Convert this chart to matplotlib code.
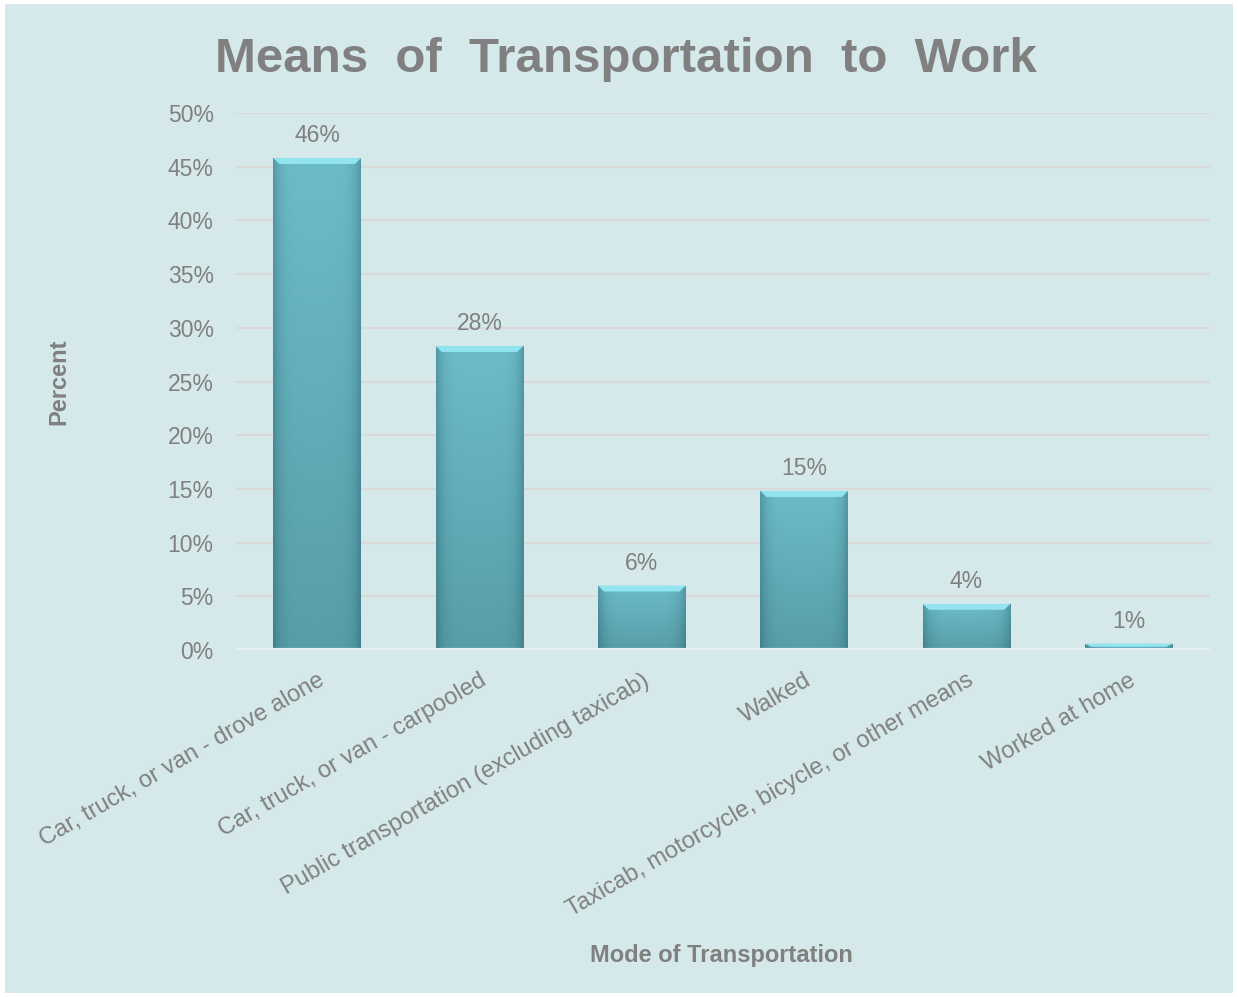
import matplotlib.pyplot as plt
import numpy as np
from matplotlib.colors import LinearSegmentedColormap

plt.rcParams["font.family"] = ["Liberation Sans", "DejaVu Sans"]

categories = [
    "Car, truck, or van - drove alone",
    "Car, truck, or van - carpooled",
    "Public transportation (excluding taxicab)",
    "Walked",
    "Taxicab, motorcycle, bicycle, or other means",
    "Worked at home",
]
percent = [45.8, 28.3, 6.0, 14.8, 4.3, 0.6]
value_labels = ["46%", "28%", "6%", "15%", "4%", "1%"]
yticks = [0, 5, 10, 15, 20, 25, 30, 35, 40, 45, 50]

BG = "#d5e8ea"
GREY = "#808080"

fig = plt.figure(figsize=(12.38, 9.97), dpi=100, facecolor="white")
fig.patches.append(plt.Rectangle((0.004, 0.004), 0.992, 0.992, transform=fig.transFigure,
                                 facecolor=BG, edgecolor="none", zorder=-10))
ax = fig.add_axes([0.1906, 0.348, 0.7868, 0.5387])
ax.set_facecolor("none")

x = np.arange(len(categories))
bars = ax.bar(x, percent, width=0.54, color="none", edgecolor="none", zorder=3)

# gradient fill for each bar: slightly darker edges, lighter toward the top
horiz = 1 - 0.18 * np.abs(np.linspace(-1, 1, 60)) ** 6
vert = np.linspace(0.84, 1.0, 200)[:, None]
shade = vert * horiz[None, :]
cmap = LinearSegmentedColormap.from_list("teal", ["#2f6670", "#6cbcc8"])
for b in bars:
    x0, w, h = b.get_x(), b.get_width(), b.get_height()
    im = ax.imshow(shade, cmap=cmap, vmin=0.55, vmax=1.0, aspect="auto", origin="lower",
                   extent=[x0, x0 + w, 0, h], zorder=3, interpolation="bilinear")
    im.set_clip_path(b)
    # bright top bevel
    bev = min(0.55, h * 0.5)
    ax.fill([x0, x0 + w, x0 + w * 0.93, x0 + w * 0.07], [h, h, h - bev, h - bev],
            color="#92e4ee", zorder=4, lw=0)
    ax.text(b.get_x() + w / 2, h + 1.0, value_labels[int(round(b.get_x() + w / 2))],
            ha="center", va="bottom", fontsize=16.5, color=GREY)

ax.set_xlim(-0.5, len(categories) - 0.5)
ax.set_ylim(0, 50)
ax.set_yticks(yticks)
ax.set_yticklabels([f"{v}%" for v in yticks], fontsize=16.5, color=GREY)
ax.yaxis.grid(True, color="#d9d9d9", lw=1.5, zorder=0)
ax.axhline(0, color="#e6eff0", lw=3, zorder=5)
ax.set_xticks(x)
ax.set_xticklabels(categories, rotation=30, ha="right", rotation_mode="anchor",
                   fontsize=17, color=GREY)
ax.tick_params(length=0, pad=16, axis="y")
ax.tick_params(length=0, pad=14, axis="x")
for s in ax.spines.values():
    s.set_visible(False)

ax.set_ylabel("Percent", fontsize=17, fontweight="bold", color=GREY, labelpad=70)
fig.text(0.583, 0.042, "Mode of Transportation", ha="center", va="center",
         fontsize=17, fontweight="bold", color=GREY)
fig.text(0.506, 0.940, "Means  of  Transportation  to  Work", ha="center", va="center",
         fontsize=35.5, fontweight="bold", color=GREY)

fig.savefig("out.png", dpi=100, facecolor="white")
